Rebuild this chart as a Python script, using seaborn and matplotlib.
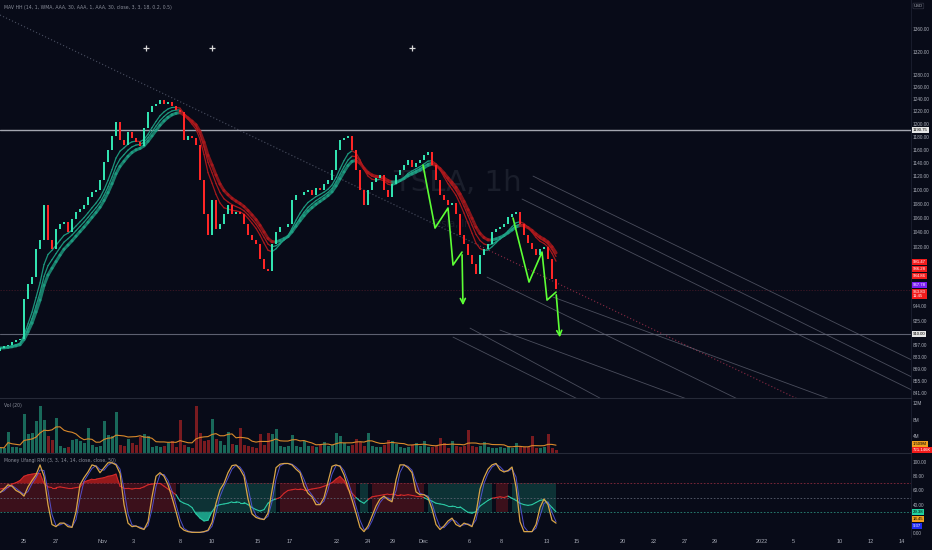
import numpy as np
import pandas as pd
import matplotlib.pyplot as plt
import seaborn as sns
from matplotlib.collections import LineCollection
from matplotlib.ticker import NullLocator

# one bar here ~ 2 hourly TSLA candles, Oct 22 -> Dec 13 2021
closes = [893, 895, 897, 900, 902, 904, 953, 971, 980, 1017,
          1030, 1078, 1030, 1017, 1044, 1051, 1055, 1041, 1058, 1069,
          1072, 1078, 1089, 1097, 1100, 1115, 1141, 1160, 1181, 1203,
          1175, 1167, 1187, 1178, 1172, 1166, 1193, 1219, 1229, 1232,
          1239, 1232, 1235, 1229, 1222, 1219, 1175, 1181, 1178, 1167,
          1115, 1065, 1037, 1086, 1044, 1051, 1065, 1078, 1065, 1069,
          1065, 1051, 1037, 1030, 1024, 1004, 991, 988, 1024, 1041,
          1047, 1047, 1051, 1086, 1093, 1093, 1097, 1100, 1093, 1103,
          1100, 1108, 1115, 1129, 1160, 1175, 1178, 1181, 1160, 1129,
          1100, 1078, 1100, 1112, 1118, 1122, 1100, 1089, 1108, 1122,
          1129, 1137, 1144, 1133, 1140, 1144, 1152, 1156, 1137, 1115,
          1093, 1086, 1078, 1081, 1065, 1037, 1024, 1010, 997, 985,
          1010, 1017, 1024, 1041, 1044, 1047, 1051, 1061, 1065, 1069,
          1051, 1037, 1026, 1017, 1010, 1017, 1020, 1004, 978, 965]

volumes_m = [1.3, 1.2, 5.0, 1.4, 1.5, 1.3, 9.5, 4.5, 4.8, 7.7,
             11.4, 8.0, 4.0, 3.2, 8.5, 1.6, 1.2, 1.4, 3.2, 3.5,
             3.0, 2.5, 6.1, 2.0, 1.5, 1.8, 7.8, 4.4, 4.0, 10.0,
             2.0, 1.6, 3.5, 2.5, 2.0, 3.8, 4.6, 4.0, 1.5, 1.8,
             1.4, 1.6, 2.5, 3.0, 1.5, 8.0, 2.0, 1.5, 1.2, 11.4,
             4.8, 3.0, 3.2, 8.2, 3.5, 2.8, 2.0, 5.0, 2.2, 2.0,
             6.0, 2.0, 1.6, 1.5, 1.2, 4.5, 2.0, 4.8, 4.5, 5.8,
             1.6, 1.4, 1.6, 4.3, 1.8, 1.5, 2.8, 1.6, 1.8, 1.4,
             2.0, 2.6, 1.8, 2.0, 4.8, 4.0, 2.4, 1.6, 2.0, 3.4,
             2.6, 1.8, 4.8, 1.8, 1.4, 1.5, 2.0, 3.2, 3.0, 2.2,
             1.5, 1.2, 1.4, 2.0, 2.4, 1.6, 2.8, 1.5, 1.4, 1.6,
             3.7, 2.4, 1.2, 3.0, 1.6, 1.5, 1.8, 5.6, 1.8, 1.4,
             1.6, 2.6, 1.4, 1.2, 1.3, 1.5, 1.2, 1.4, 1.3, 2.5,
             1.6, 1.5, 1.4, 4.0, 1.3, 1.2, 1.5, 4.6, 1.1, 0.7]

rmi = [62, 63, 64, 69, 71, 74, 80, 82, 83, 84,
       84, 70, 65, 64, 64, 65, 64, 63, 63, 64,
       65, 72, 74, 76, 76, 77, 78, 80, 81, 83,
       66, 63, 63, 62, 63, 63, 65, 68, 69, 70,
       70, 66, 62, 58, 54, 45, 42, 40, 36, 27,
       21, 17, 18, 30, 38, 40, 41, 42, 44, 44,
       43, 43, 40, 36, 33, 31, 33, 42, 46, 48,
       50, 56, 60, 61, 62, 62, 61, 61, 62, 63,
       64, 66, 68, 71, 76, 80, 74, 62, 56, 50,
       45, 42, 47, 51, 52, 53, 54, 55, 55, 54,
       54, 53, 54, 53, 52, 52, 50, 47, 45, 42,
       41, 40, 38, 38, 37, 37, 33, 29, 28, 30,
       38, 42, 46, 49, 50, 51, 50, 52, 49, 46,
       42, 40, 39, 40, 43, 46, 47, 42, 36, 30]

stoch_k = [57, 62, 68, 66, 60, 57, 52, 65, 74, 82,
           96, 80, 40, 12, 9, 14, 14, 9, 8, 30,
           68, 78, 86, 96, 94, 85, 92, 99, 99, 96,
           84, 40, 14, 9, 10, 7, 5, 16, 51, 80,
           85, 80, 68, 50, 30, 9, 4, 2, 1, 1,
           1, 2, 4, 15, 42, 61, 70, 85, 95, 96,
           90, 80, 48, 27, 22, 20, 19, 28, 60, 92,
           97, 98, 98, 96, 90, 85, 66, 56, 51, 40,
           40, 50, 72, 94, 96, 94, 82, 64, 47, 28,
           8, 2, 10, 24, 38, 48, 52, 47, 44, 75,
           96, 96, 92, 85, 58, 54, 54, 50, 34, 12,
           5, 10, 17, 21, 12, 9, 14, 12, 9, 28,
           62, 78, 90, 96, 98, 89, 86, 88, 93, 65,
           16, 2, 2, 2, 12, 36, 48, 40, 18, 14]

price_ticks = [1360, 1320, 1280, 1260, 1240, 1220, 1200, 1180, 1160, 1140,
               1120, 1100, 1080, 1060, 1040, 1020, 944, 925, 897, 883,
               869, 855, 841]
vol_ticks = [4, 8, 12]
osc_ticks = [0, 40, 60, 80, 100]
date_pos = [6, 14, 25.5, 33.25, 45, 53, 64.5, 72.5, 84.25, 92, 98.25, 105.75,
            117.25, 125.25, 136.75, 144.25, 155.75, 163.5, 171.25, 178.75,
            190.5, 198.25, 210, 217.75, 225.5]
date_labels = ["25", "27", "Nov", "3", "8", "10", "15", "17", "22", "24", "29",
               "Dec", "6", "8", "13", "15", "20", "22", "27", "29", "2022",
               "5", "10", "12", "14"]

levels = [1190.75, 910.0]
cross_x = [36.5, 53, 103]
cross_y = [1326, 1326, 1326]
zig1_x = [105.75, 108.75, 112, 113.25, 115.5, 115.75]
zig1_y = [1136.6, 1046.0, 1074.0, 996.2, 1013.4, 941.2]
zig2_x = [128.25, 132.25, 135.5, 136.75, 139, 140]
zig2_y = [1059.9, 974.1, 1013.4, 951.2, 961.3, 902.3]
trend_x = [0, 120, 200]
trend_y = [1385.3, 1021.5, 833.6]
channel = [(133.25, 1120.2, 228, 878.8), (132.5, 1102.7, 228, 859.3),
           (130.5, 1086.8, 228, 844.7), (138.25, 955.0, 208.25, 833.6),
           (121.75, 980.5, 185, 833.6), (117.5, 916.7, 150, 835.8),
           (113.25, 905.9, 145, 833.6), (125, 914.3, 172.5, 833.6)]

price_tags = [(1190.75, "1190.75", "#e6e6e6", "#000000"),
              (910.0, "910.00", "#e6e6e6", "#000000"),
              (1000.2, "991.47", "#f21c1c", "white"),
              (991.2, "986.28", "#f21c1c", "white"),
              (982.3, "984.86", "#f21c1c", "white"),
              (969.9, "967.78", "#7a1cf2", "white"),
              (959.0, "963.83\n11:45", "#f21c1c", "white")]
vol_tags = [(2.2, "1.509M", "#f0a01e", "black"), (0.7, "721.146K", "#f21c1c", "white")]
osc_tags = [(29.4, "29.38", "#22d3a0", "black"), (19.5, "14.45", "#f0a01e", "black"),
            (9.6, "9.37", "#1f2cf0", "white")]

BG = "#080b18"
GRID = "#262a38"
TXT = "#a9adb8"
UP, DOWN = "#32e3b0", "#ff2626"
AXFONT = ["Liberation Sans", "DejaVu Sans"]

sns.set_theme(style="dark", rc={"axes.facecolor": BG, "figure.facecolor": BG,
                                "axes.edgecolor": GRID, "axes.grid": False})
plt.rcParams["font.family"] = ["DejaVu Sans"]

x = np.arange(len(closes))
s = pd.Series(closes, dtype=float)
opens = np.r_[closes[0] - 3, s.values[:-1]]
up = s.values >= opens
cols = np.where(up, UP, DOWN)

fig = plt.figure(figsize=(9.32, 5.5), dpi=100)
ax_p = fig.add_axes([0, 0.2764, 0.9775, 0.7236])
ax_v = fig.add_axes([0, 0.1764, 0.9775, 0.1], sharex=ax_p)
ax_o = fig.add_axes([0, 0.0236, 0.9775, 0.1527], sharex=ax_p)


def colored_line(ax, xs, ys, colors, lw, alpha=1.0, z=2):
    pts = np.column_stack([xs, ys])
    segs = np.stack([pts[:-1], pts[1:]], axis=1)
    ax.add_collection(LineCollection(segs, colors=colors, linewidths=lw,
                                     alpha=alpha, zorder=z, capstyle="round"))


def tag(ax, y, text, fc, tc):
    ax.annotate(text, xy=(1.0, y), xycoords=ax.get_yaxis_transform(),
                xytext=(1.2, 0), textcoords="offset points", ha="left", va="center",
                fontsize=3.1, family=AXFONT, color=tc, linespacing=1.0,
                annotation_clip=False,
                bbox=dict(boxstyle="square,pad=0.25", fc=fc, ec="none"))


# ---- price pane
ax = ax_p
ax.set_yscale("log")
ax.text(114.25, 1110, "TSLA, 1h", ha="center", va="center", fontsize=21,
        color="#1a1e2b", zorder=0.5)
ax.text(113.25, 1051, "Tesla, Inc", ha="center", va="center", fontsize=7,
        color="#1a1e2b", zorder=0.5)

ax.plot(trend_x[:2], trend_y[:2], ls=(0, (1, 2)), color="#4b5062", lw=0.8, zorder=1)
ax.plot(trend_x[1:], trend_y[1:], ls=(0, (1, 2)), color="#8a2a44", lw=0.8, zorder=1)
for x0, y0, x1, y1 in channel:
    ax.plot([x0, x1], [y0, y1], color="#8c8fa0", lw=0.6, alpha=0.5, zorder=1)

ax.axhline(levels[0], color="#a3a6b0", lw=1.0, zorder=1.5)
ax.axhline(levels[1], color="#5d6070", lw=0.8, zorder=1.5)
ax.axhline(963.83, color="#4a1a28", lw=0.5, ls=(0, (2, 2)), zorder=1.2)

# moving average ribbon, teal when rising, red when falling
for span, lw, alpha in [(9, 2.2, 0.75), (7, 0.9, 0.9), (5, 0.9, 0.9)]:
    ema = s.ewm(span=span, adjust=False).mean().ewm(span=3, adjust=False).mean()
    rising = np.diff(ema.values) >= 0
    colored_line(ax, x, ema.values, np.where(rising, "#1fa487", "#b3191c"), lw, alpha, z=2)

ax.bar(x, s.values - opens, bottom=opens, width=0.72, color=cols, linewidth=0, zorder=3)

ax.scatter(cross_x, cross_y, marker="+", s=22, color="#d8d8d8", linewidths=0.9, zorder=4)

green = "#5cff35"
for zx, zy in [(zig1_x, zig1_y), (zig2_x, zig2_y)]:
    ax.plot(zx[:-1], zy[:-1], color=green, lw=1.2, zorder=5)
    ax.annotate("", xy=(zx[-1], zy[-1]), xytext=(zx[-2], zy[-2]),
                arrowprops=dict(arrowstyle="->", color=green, lw=1.2, mutation_scale=9),
                zorder=5)

ax.set_ylim(836, 1413)
ax.yaxis.set_minor_locator(NullLocator())
ax.set_yticks(price_ticks)
ax.set_yticklabels([f"{t:.2f}" for t in price_ticks])
ax.text(0.004, 0.988, "MAV HH (14, 1, WMA, AAA, 30, AAA, 1, AAA, 30, close, 3, 3, 18, 0.2, 0.5)",
        transform=ax.transAxes, fontsize=3.3, color="#8a8e9a", va="top")
ax.annotate("USD", xy=(1.0, 0.985), xycoords="axes fraction", xytext=(2, 0),
            textcoords="offset points", fontsize=3.1, family=AXFONT, color=TXT,
            va="center", annotation_clip=False,
            bbox=dict(boxstyle="round,pad=0.2", fc=BG, ec="#3a3e4c", lw=0.4))
for y, t, fc, tc in price_tags:
    tag(ax, y, t, fc, tc)

# ---- volume pane
ax = ax_v
vol = pd.Series(volumes_m)
ax.bar(x, vol.values, width=0.75, color=np.where(up, "#1d7a66", "#8e1e22"),
       alpha=0.85, linewidth=0, zorder=2)
sns.lineplot(x=x, y=vol.rolling(10, min_periods=1).mean().values, ax=ax,
             color="#d9892b", lw=0.8, zorder=3)
ax.set_ylim(0, 13.3)
ax.set_yticks(vol_ticks)
ax.set_yticklabels([f"{t}M" for t in vol_ticks])
ax.text(0.004, 0.9, "Vol (20)", transform=ax.transAxes, fontsize=3.3, color="#8a8e9a", va="top")
for y, t, fc, tc in vol_tags:
    tag(ax, y, t, fc, tc)

# ---- oscillator pane
ax = ax_o
r = np.array(rmi, dtype=float)
ax.fill_between(x, 30, 70, where=r >= 50, color="#7a1820", alpha=0.45, lw=0, step="mid")
ax.fill_between(x, 30, 70, where=r < 50, color="#135a52", alpha=0.5, lw=0, step="mid")
ax.fill_between(x, 70, r, where=r > 70, color="#b01c1c", alpha=0.85, lw=0, interpolate=True)
ax.fill_between(x, 30, r, where=r < 30, color="#1fb89a", alpha=0.85, lw=0, interpolate=True)
ax.axhline(70, color="#8a2a3c", lw=0.6, ls=(0, (2, 2)))
ax.axhline(50, color="#5a6070", lw=0.6, ls=(0, (2, 2)))
ax.axhline(30, color="#2a8a7a", lw=0.6, ls=(0, (2, 2)))
colored_line(ax, x, r, np.where(r[1:] >= 50, "#d42a2a", "#2bc9a4"), 0.8, 1.0, z=3)

k = pd.Series(stoch_k, dtype=float)
d = k.rolling(2, min_periods=1).mean()
sns.lineplot(x=x, y=d.values, ax=ax, color="#5a5ae8", lw=0.7, alpha=0.85, zorder=4)
sns.lineplot(x=x, y=k.values, ax=ax, color="#d9a548", lw=0.9, zorder=5)
ax.set_ylim(-5.6, 112.7)
ax.set_yticks(osc_ticks)
ax.set_yticklabels([f"{t:.2f}" for t in osc_ticks])
ax.text(0.004, 0.94, "Money Ufangi RMI (3, 3, 14, 14, close, close, 50)",
        transform=ax.transAxes, fontsize=3.3, color="#8a8e9a", va="top")
for y, t, fc, tc in osc_tags:
    tag(ax, y, t, fc, tc)

# ---- shared styling
for a in (ax_p, ax_v, ax_o):
    a.set_facecolor(BG)
    a.set_xlim(0, 227.75)
    a.yaxis.tick_right()
    a.tick_params(axis="y", length=0, pad=1.2, labelsize=3.4, labelcolor=TXT)
    a.tick_params(axis="x", length=0, pad=1.5, labelsize=4, labelcolor=TXT)
    for lab in a.get_yticklabels():
        lab.set_family(AXFONT)
    a.set_xlabel("")
    a.set_ylabel("")
    for side in ("left", "bottom", "top"):
        a.spines[side].set_visible(False)
    a.spines["right"].set_color("#1c2030")
    a.spines["right"].set_linewidth(0.6)
for a in (ax_v, ax_o):
    a.spines["top"].set_visible(True)
    a.spines["top"].set_color(GRID)
    a.spines["top"].set_linewidth(0.8)
ax_p.tick_params(axis="x", labelbottom=False)
ax_v.tick_params(axis="x", labelbottom=False)
ax_o.set_xticks(date_pos)
ax_o.set_xticklabels(date_labels)
for lab in ax_o.get_xticklabels():
    lab.set_family(AXFONT)

fig.savefig("out.png", dpi=100, facecolor=BG)
